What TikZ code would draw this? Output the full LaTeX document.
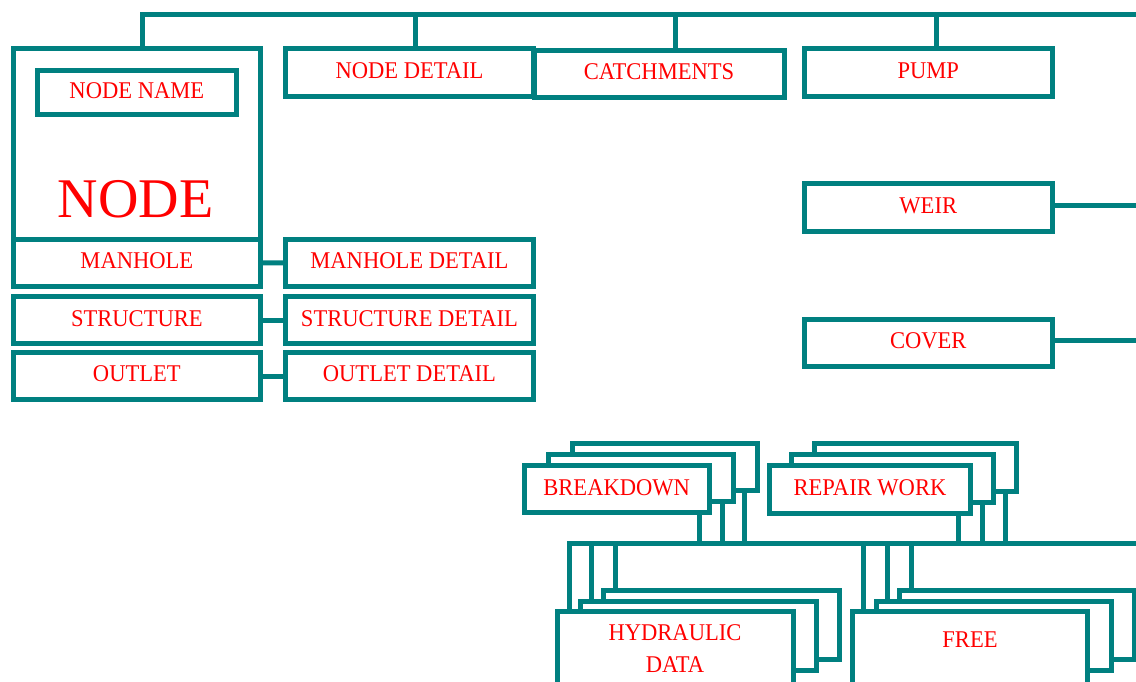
\documentclass[tikz,border=0pt]{standalone}
\usepackage{fontspec}
\setmainfont{Liberation Serif}[FakeStretch=0.94]
\newfontfamily\bigfont{Liberation Serif}
\usetikzlibrary{backgrounds}
\definecolor{lineteal}{HTML}{008080}
\definecolor{txtred}{HTML}{FF0000}
\begin{document}
\begin{tikzpicture}[x=1pt,y=-1pt,
  box/.style={draw=lineteal, line width=5pt, fill=white, rectangle, inner sep=0pt, outer sep=0pt,
    text=txtred, font=\fontsize{24}{32}\selectfont, align=center, text depth=4pt},
  conn/.style={draw=lineteal, line width=5pt}]
\useasboundingbox (0,0) rectangle (1136,681);
\clip (0,0) rectangle (1136,681);

% --- NODE group ---
\node[box, minimum width=247.7pt, minimum height=191pt] (nodebox) at (136.85,143.5) {};
\node[box, minimum width=199.7pt, minimum height=44.7pt] (nname) at (136.85,92.35) {NODE NAME};
\node[text=txtred, font=\bigfont\fontsize{56}{56}\selectfont, anchor=base, inner sep=0pt] (nodelbl) at (135.7,217) {NODE};

\node[box, minimum width=247.7pt, minimum height=47.8pt] (mh) at (136.85,262.9) {MANHOLE};
\node[box, minimum width=247.7pt, minimum height=46.7pt] (st) at (136.85,320.15) {STRUCTURE};
\node[box, minimum width=247.7pt, minimum height=47pt] (ou) at (136.85,376) {OUTLET};

\node[box, minimum width=248.2pt, minimum height=47.6pt] (mhd) at (409.4,263) {MANHOLE DETAIL};
\node[box, minimum width=248.2pt, minimum height=46.7pt] (std) at (409.4,320.15) {STRUCTURE DETAIL};
\node[box, minimum width=248.2pt, minimum height=47pt] (oud) at (409.4,376) {OUTLET DETAIL};

% --- top row ---
\node[box, minimum width=248pt, minimum height=48.5pt] (ndet) at (409.5,72.25) {NODE DETAIL};
\node[box, minimum width=250pt, minimum height=47.5pt] (catch) at (659,73.75) {CATCHMENTS};
\node[box, minimum width=248.5pt, minimum height=48.5pt] (pump) at (928.25,72.25) {PUMP};
\node[box, minimum width=248.5pt, minimum height=47.6pt] (weir) at (928.25,207.2) {WEIR};
\node[box, minimum width=248.5pt, minimum height=47.7pt] (cover) at (928.25,342.85) {COVER};

% --- BREAKDOWN stack ---
\node[box, minimum width=185pt, minimum height=47.5pt] (bd3) at (664.7,467.2) {};
\node[box, minimum width=185pt, minimum height=47.5pt] (bd2) at (640.7,478.2) {};
\node[box, minimum width=185pt, minimum height=47.5pt] (bd1) at (616.7,489.2) {BREAKDOWN};

% --- REPAIR WORK stack ---
\node[box, minimum width=201.6pt, minimum height=47.5pt] (rw3) at (915.2,467.5) {};
\node[box, minimum width=201.6pt, minimum height=47.5pt] (rw2) at (892.6,478.5) {};
\node[box, minimum width=201.6pt, minimum height=47.5pt] (rw1) at (870,489.5) {REPAIR WORK};

% --- HYDRAULIC DATA stack ---
\node[box, minimum width=236pt, minimum height=69pt] (hy3) at (721.4,624.7) {};
\node[box, minimum width=236pt, minimum height=69pt] (hy2) at (698,635.5) {};
\node[box, minimum width=236pt, minimum height=80pt, text depth=5.6pt] (hy1) at (675,651.8) {HYDRAULIC\\DATA};

% --- FREE stack ---
\node[box, minimum width=235pt, minimum height=69pt] (fr3) at (1016.7,624.7) {};
\node[box, minimum width=235pt, minimum height=69pt] (fr2) at (994.3,635.5) {};
\node[box, minimum width=235pt, minimum height=80pt, text depth=23.6pt] (fr1) at (970,651.8) {FREE};

% --- connectors ---
\coordinate (topR) at (1136,14.8);
\coordinate (weirR) at (1136,205.5);
\coordinate (coverR) at (1136,340.8);
\coordinate (busR) at (1136,543.2);
\begin{pgfonlayer}{background}
\draw[conn] ([xshift=5.65pt]nodebox.north) |- (topR);
\draw[conn] ([xshift=5.5pt]ndet.north) |- (topR);
\draw[conn] ([xshift=16pt]catch.north) |- (topR);
\draw[conn] ([xshift=7.75pt]pump.north) |- (topR);
\draw[conn] (weir.east |- weirR) -- (weirR);
\draw[conn] (cover.east |- coverR) -- (coverR);
\draw[conn] (mh.east) -- (mhd.west);
\draw[conn] (st.east) -- (std.west);
\draw[conn] (ou.east) -- (oud.west);
\draw[conn] ([xshift=-10pt]bd1.south east) |- (busR);
\draw[conn] ([xshift=-10.3pt]bd2.south east) |- (busR);
\draw[conn] ([xshift=-12.3pt]bd3.south east) |- (busR);
\draw[conn] ([xshift=-12.3pt]rw1.south east) |- (busR);
\draw[conn] ([xshift=-11pt]rw2.south east) |- (busR);
\draw[conn] ([xshift=-10.7pt]rw3.south east) |- (busR);
\draw[conn] ([xshift=12.7pt]hy1.north west) |- (busR);
\draw[conn] ([xshift=11.6pt]hy2.north west) |- (busR);
\draw[conn] ([xshift=11.6pt]hy3.north west) |- (busR);
\draw[conn] ([xshift=11pt]fr1.north west) |- (busR);
\draw[conn] ([xshift=10.7pt]fr2.north west) |- (busR);
\draw[conn] ([xshift=12.6pt]fr3.north west) |- (busR);
\end{pgfonlayer}
\end{tikzpicture}
\end{document}
